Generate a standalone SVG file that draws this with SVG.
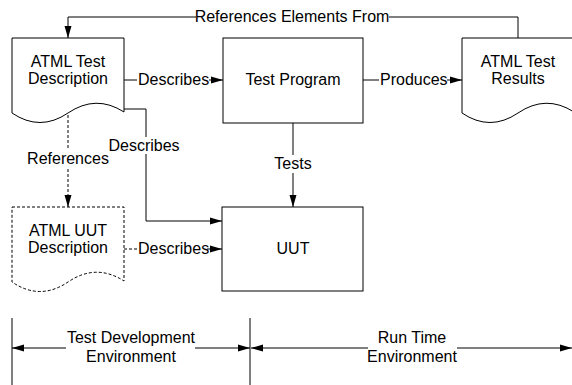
<svg xmlns="http://www.w3.org/2000/svg" width="572" height="385" viewBox="0 0 572 385">
<defs>
<style>
.ln{fill:none;stroke:#000;stroke-width:1}
.dash{stroke-dasharray:3,2}
.shape{fill:#fff;stroke:#000;stroke-width:1}
text{font-family:"Liberation Sans",Arial,sans-serif;font-size:16px;fill:#000}
.c{text-anchor:middle}
</style>
<marker id="ah" markerUnits="userSpaceOnUse" markerWidth="12" markerHeight="8" refX="12" refY="4" orient="auto">
<path d="M0,0.5 L12,4 L0,7.5 z" fill="#000"/>
</marker>
</defs>
<rect width="572" height="385" fill="#fff"/>

<g id="connectors">
<path class="ln" d="M518,38 V17 H389"/>
<path class="ln" d="M196,17 H68 V38" marker-end="url(#ah)"/>
<text class="c" x="292" y="22">References Elements From</text>

<path class="ln" d="M124,80 H137"/>
<text x="138" y="85">Describes</text>
<path class="ln" d="M209,80 H223" marker-end="url(#ah)"/>

<path class="ln" d="M363,80 H379"/>
<text x="380" y="85">Produces</text>
<path class="ln" d="M447,80 H462" marker-end="url(#ah)"/>

<path class="ln" d="M293,123 V155"/>
<text class="c" x="293" y="169">Tests</text>
<path class="ln" d="M293,173 V207" marker-end="url(#ah)"/>

<path class="ln" d="M124,109 H146 V137"/>
<text class="c" x="144" y="151">Describes</text>
<path class="ln" d="M146,154 V221 H222" marker-end="url(#ah)"/>

<path class="ln dash" d="M68,115 V149"/>
<text class="c" x="68" y="164">References</text>
<path class="ln dash" d="M68,169 V200"/>
<path class="ln" d="M68,199 V207" marker-end="url(#ah)"/>

<path class="ln dash" d="M124,249 H137"/>
<text x="138" y="254">Describes</text>
<path class="ln" d="M207,249 H222" marker-end="url(#ah)"/>
</g>

<g id="doc-test-description">
<path class="shape" d="M12,38 H124 V112 Q96,94 68,113 Q40,132 12,113 Z"/>
<text class="c" x="68" y="67">ATML Test</text>
<text class="c" x="68" y="84">Description</text>
</g>

<g id="test-program">
<rect class="shape" x="223" y="38" width="140" height="85"/>
<text class="c" x="293" y="85">Test Program</text>
</g>

<g id="doc-test-results">
<path class="shape" d="M462,38 H574 V112 Q546,94 518,113 Q490,132 462,113 Z"/>
<text class="c" x="518" y="67">ATML Test</text>
<text class="c" x="518" y="84">Results</text>
</g>

<g id="doc-uut-description">
<path class="shape dash" d="M12,207 H124 V281 Q96,263 68,282 Q40,301 12,282 Z"/>
<text class="c" x="68" y="236">ATML UUT</text>
<text class="c" x="68" y="253">Description</text>
</g>

<g id="uut">
<rect class="shape" x="222" y="207" width="141" height="84"/>
<text class="c" x="293" y="254">UUT</text>
</g>

<g id="environments">
<path class="ln" d="M12,318 V385 M250,318 V385"/>
<path class="ln" d="M66,348 H12" marker-end="url(#ah)"/>
<path class="ln" d="M195,348 H250" marker-end="url(#ah)"/>
<text class="c" x="131" y="343">Test Development</text>
<text class="c" x="131" y="362">Environment</text>
<path class="ln" d="M368,348 H251" marker-end="url(#ah)"/>
<path class="ln" d="M457,348 H572" marker-end="url(#ah)"/>
<text class="c" x="412" y="343">Run Time</text>
<text class="c" x="412" y="362">Environment</text>
</g>
</svg>
